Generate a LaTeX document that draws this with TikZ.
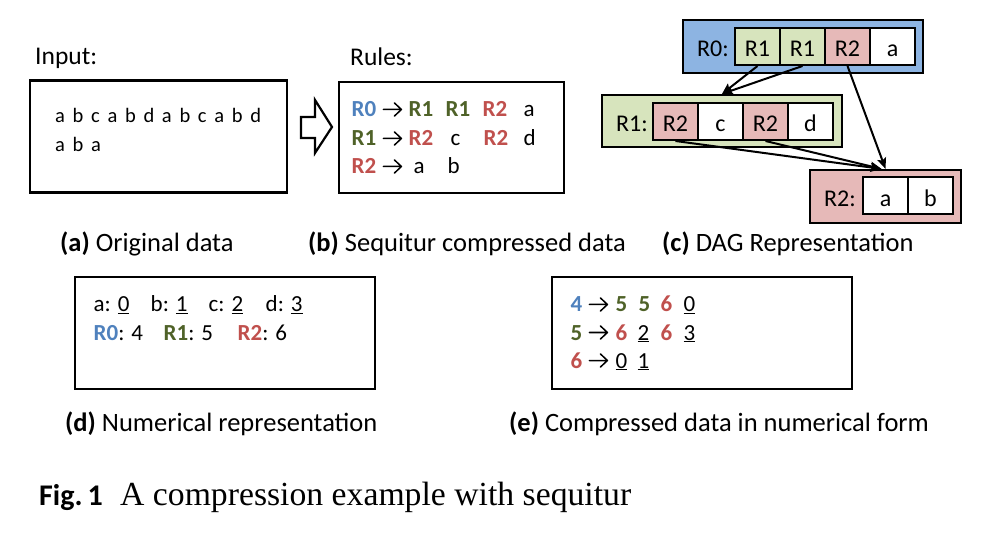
\documentclass[tikz,border=0pt]{standalone}
\usepackage{fontspec}
\setmainfont{Carlito}
\newfontfamily\timesf{Liberation Serif}
\usetikzlibrary{arrows.meta}
\definecolor{cblue}{HTML}{4F81BD}
\definecolor{cgreen}{HTML}{4F6228}
\definecolor{cred}{HTML}{C0504D}
\definecolor{fblue}{HTML}{8DB4E2}
\definecolor{fgreen}{HTML}{D7E4BD}
\definecolor{fred}{HTML}{E6B9B8}
\newcommand\tk[2]{\makebox[0pt][l]{\hspace*{#1pt}#2}}
\newcommand\blu[1]{\textcolor{cblue}{\textbf{#1}}}
\newcommand\grn[1]{\textcolor{cgreen}{\textbf{#1}}}
\newcommand\rdd[1]{\textcolor{cred}{\textbf{#1}}}
\newcommand\rarr{\tikz[baseline=0pt,x=1pt,y=1pt]{\draw[line width=1.5pt, line cap=round, line join=round] (1,7.5)--(19,7.5) (12,1)--(19,7.5)--(12,14);}}
\newcommand\wsp{\spaceskip=7.7pt\relax}
\begin{document}
\begin{tikzpicture}[x=1pt,y=-1pt,
  bx/.style={draw, line width=2.4pt, inner sep=0pt},
  lbl/.style={anchor=base west, inner sep=0pt, font=\fontsize{25.5}{30}\selectfont},
  capt/.style={anchor=base west, inner sep=0pt, font=\fontsize{26.5}{31}\selectfont},
  ln/.style={anchor=base west, inner sep=0pt, font=\fontsize{23}{27}\selectfont},
  dt/.style={anchor=base west, inner sep=0pt, font=\fontsize{20.5}{24}\selectfont},
  grp/.style={draw, line width=2.2pt, inner sep=0pt},
  cell/.style={draw, line width=2pt, minimum width=45pt, minimum height=37pt, inner sep=0pt, text height=21pt, text depth=0pt, font=\fontsize{24}{28}\selectfont},
  gl/.style={inner sep=0pt, text height=21pt, text depth=0pt, font=\fontsize{24}{28}\selectfont},
  arr/.style={-{Stealth[length=11pt,width=9pt,inset=2pt]}, line width=2pt}
]
\useasboundingbox (0,0) rectangle (987,534);

% (a)
\node[lbl] (inlbl) at (35,65) {Input:};
\node[bx, minimum width=257pt, minimum height=112pt] (boxa) at (158.5,136.5) {};
\node[dt] (da1) at (55,123) {\wsp a b c a b d a b c a b d};
\node[dt] (da2) at (55,152) {\wsp a b a};
\node[capt] (capa) at (60,252) {\textbf{(a)} Original data};

% hollow arrow
\draw[line width=2.2pt, line join=miter] (301,117) -- (315,117) -- (315,100) -- (332,127) -- (315,153) -- (315,138) -- (301,138) -- cycle;

% (b)
\node[lbl] (rulbl) at (350,66) {Rules:};
\node[bx, minimum width=225pt, minimum height=111pt] (boxb) at (451.5,137.5) {};
\node[ln] (rl1) at (351,117) {\tk{0}{\blu{R0}}\tk{31}{\rarr}\tk{57}{\grn{R1}}\tk{94}{\grn{R1}}\tk{131}{\rdd{R2}}\tk{172}{a}};
\node[ln] (rl2) at (351,146) {\tk{0}{\grn{R1}}\tk{31}{\rarr}\tk{57}{\rdd{R2}}\tk{99}{c}\tk{132}{\rdd{R2}}\tk{172}{d}};
\node[ln] (rl3) at (351,174) {\tk{0}{\rdd{R2}}\tk{31}{\rarr}\tk{62}{a}\tk{96}{b}};
\node[capt] (capb) at (308,252) {\textbf{(b)} Sequitur compressed data};

% (c) DAG
\node[grp, fill=fblue, minimum width=240pt, minimum height=53pt] (g0) at (803,46.5) {};
\node[gl] (t0) at (713,46.5) {R0:};
\node[cell, fill=fgreen] (c01) at (757.5,46.5) {R1};
\node[cell, fill=fgreen] (c02) at (802.5,46.5) {R1};
\node[cell, fill=fred] (c03) at (847.5,46.5) {R2};
\node[cell, fill=white] (c04) at (892.5,46.5) {a};

\node[grp, fill=fgreen, minimum width=240pt, minimum height=52pt] (g1) at (722,121) {};
\node[gl] (t1) at (632,121.5) {R1:};
\node[cell, fill=fred] (c11) at (675.5,121.5) {R2};
\node[cell, fill=white] (c12) at (720.5,121.5) {c};
\node[cell, fill=fred] (c13) at (765.5,121.5) {R2};
\node[cell, fill=white] (c14) at (810.5,121.5) {d};

\node[grp, fill=fred, minimum width=151pt, minimum height=53pt] (g2) at (885.5,196.5) {};
\node[gl] (t2) at (840,196) {R2:};
\node[cell, fill=white] (c21) at (885.5,196) {a};
\node[cell, fill=white] (c22) at (930.5,196) {b};

\draw[arr] (c01.south) -- (g1.north);
\draw[arr] (c02.south) -- (g1.north);
\draw[arr] (c03.south) -- (g2.north);
\draw[arr] (c11.south) -- ([xshift=-4pt]g2.north);
\draw[arr] (c13.south) -- ([xshift=-4pt]g2.north);
\node[capt] (capc) at (662,252) {\textbf{(c)} DAG Representation};

% (d)
\node[bx, minimum width=300pt, minimum height=112pt] (boxd) at (225,333) {};
\node[ln] (nd1) at (93,312) {\tk{0}{a: \underline{0}}\tk{57}{b: \underline{1}}\tk{115}{c: \underline{2}}\tk{172}{d: \underline{3}}};
\node[ln] (nd2) at (93,341) {\tk{0}{\blu{R0}: 4}\tk{70}{\grn{R1}: 5}\tk{144}{\rdd{R2}: 6}};
\node[capt] (capd) at (65,431) {\textbf{(d)} Numerical representation};

% (e)
\node[bx, minimum width=300pt, minimum height=112pt] (boxe) at (702,333) {};
\node[ln] (ne1) at (570,312) {\tk{0}{\blu{4}}\tk{18}{\rarr}\tk{45}{\grn{5}}\tk{68}{\grn{5}}\tk{90}{\rdd{6}}\tk{113}{\underline{0}}};
\node[ln] (ne2) at (570,340) {\tk{0}{\grn{5}}\tk{18}{\rarr}\tk{45}{\rdd{6}}\tk{67}{\underline{2}}\tk{90}{\rdd{6}}\tk{113}{\underline{3}}};
\node[ln] (ne3) at (570,368) {\tk{0}{\rdd{6}}\tk{18}{\rarr}\tk{45}{\underline{0}}\tk{67}{\underline{1}}};
\node[capt] (cape) at (509,431) {\textbf{(e)} Compressed data in numerical form};

% figure caption
\node[anchor=base west, inner sep=0pt, font=\fontsize{30}{36}\selectfont\bfseries] (figl) at (39,505) {Fig.\,1};
\node[anchor=base west, inner sep=0pt, font=\timesf\fontsize{33.7}{40}\selectfont] (figt) at (120,505) {A compression example with sequitur};
\end{tikzpicture}
\end{document}
